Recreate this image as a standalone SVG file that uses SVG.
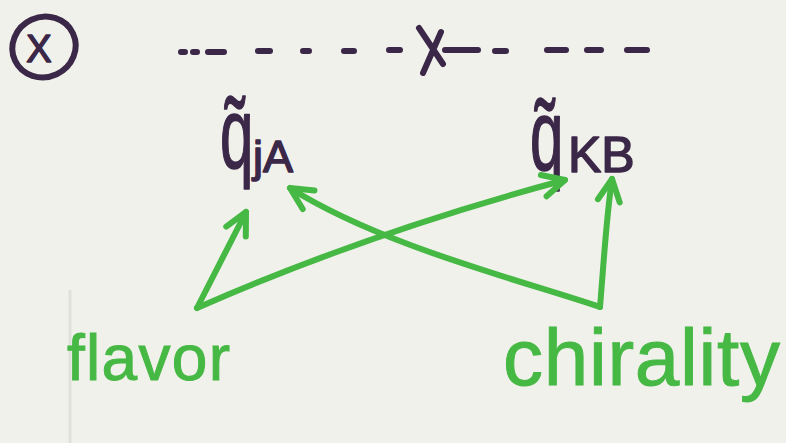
<svg xmlns="http://www.w3.org/2000/svg" width="786" height="443" viewBox="0 0 786 443">
<style>
.ink{stroke:#3b2747;stroke-width:6;stroke-linecap:round;fill:none}
.pt{fill:#3b2747;stroke:#3b2747;stroke-width:1.5;stroke-linejoin:round;font-family:"Liberation Sans",Arial,sans-serif}
.g{stroke:#46b844;stroke-width:6;stroke-linecap:round;stroke-linejoin:round;fill:none}
.gt{fill:#46b844;stroke:#46b844;stroke-width:1;font-family:"Liberation Sans",Arial,sans-serif}
</style>
<defs>
<marker id="ah" markerUnits="userSpaceOnUse" viewBox="0 0 30 30" refX="26" refY="15" markerWidth="30" markerHeight="30" orient="auto">
<path d="M4,4 L26,15 L4,26" fill="none" stroke="#46b844" stroke-width="6" stroke-linecap="round" stroke-linejoin="round"/>
</marker>
</defs>
<rect width="786" height="443" fill="#f1f1ec"/>
<line x1="70" y1="290" x2="70" y2="443" stroke="#e0e0dc" stroke-width="3"/>

<g id="circled-x">
<ellipse cx="44" cy="47" rx="32" ry="30" transform="rotate(-25 44 47)" class="ink" stroke-width="5"/>
<text x="39" y="62" font-size="38" text-anchor="middle" class="pt" stroke-width="2.5">X</text>
</g>

<g id="propagator">
<path class="ink" stroke-width="7" d="M181,52h4 M193,52h4 M208,52h16 M258,51h12 M303,51h6 M344,51h10 M389,50h11 M445,50h33 M495,51h11 M547,50h19 M587,50h14 M627,50h20"/>
<path class="ink" d="M419,28 L443,64 M441,32 L423,73"/>
</g>

<g id="q-jA">
<text transform="translate(220,168) scale(0.6,1)" font-size="100" class="pt" stroke-width="3">q̃</text>
<text x="253" y="172" font-size="45" class="pt">jA</text>
</g>

<g id="q-KB">
<text transform="translate(530,170) scale(0.6,1)" font-size="100" class="pt" stroke-width="3">q̃</text>
<text x="568" y="172" font-size="50" class="pt">KB</text>
</g>

<g id="flavor">
<text x="67" y="380" font-size="64" textLength="163" class="gt">flavor</text>
</g>

<g id="chirality">
<text x="503" y="385" font-size="80" textLength="277" class="gt">chirality</text>
</g>

<g id="connectors">
<path class="g" d="M197,308 L246,212" marker-end="url(#ah)"/>
<path class="g" d="M197,308 Q370,232 565,180" marker-end="url(#ah)"/>
<path class="g" d="M600,307 C604,260 606,220 612,179" marker-end="url(#ah)"/>
<path class="g" d="M600,307 C520,280 380,245 290,188" marker-end="url(#ah)"/>
</g>
</svg>
